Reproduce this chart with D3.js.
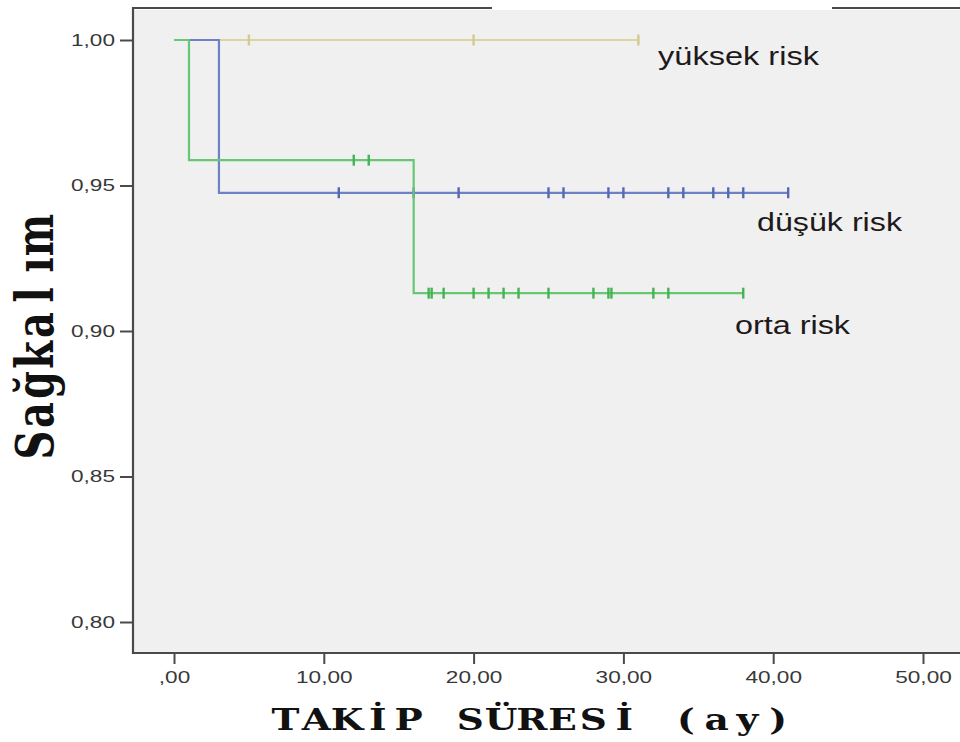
<!DOCTYPE html>
<html>
<head>
<meta charset="utf-8">
<script src="https://cdn.jsdelivr.net/npm/d3@7"></script>
<style>
  html, body { margin: 0; padding: 0; background: #ffffff; }
  svg { display: block; }
</style>
</head>
<body>
<svg id="chart" width="960" height="742"></svg>
<script>
// Kaplan–Meier survival curves by risk group
const groups = ["yüksek risk", "düşük risk", "orta risk"];

// step points: [time (ay), survival]
const yuksekSteps = [[0, 1.0], [31, 1.0]];
const dusukSteps  = [[0, 1.0], [3, 0.9475], [41, 0.9475]];
const ortaSteps   = [[0, 1.0], [1, 0.9587], [16, 0.913], [38, 0.913]];

// censored observation times
const yuksekCensored = [5, 20, 31];
const dusukCensored  = [11, 16, 19, 25, 26, 29, 30, 33, 34, 36, 37, 38, 41];
const ortaCensored   = [12, 13, 17, 17.2, 18, 20, 21, 22, 23, 25, 28, 29, 29.2, 32, 33, 38];

const xTicks = [0, 10, 20, 30, 40, 50];
const xTickLabels = [",00", "10,00", "20,00", "30,00", "40,00", "50,00"];
const yTicks = [0.80, 0.85, 0.90, 0.95, 1.00];
const yTickLabels = ["0,80", "0,85", "0,90", "0,95", "1,00"];

const xTitle = "TAKİP SÜRESİ (ay)";
const yTitle = "Sağkalım";

const series = [
  { name: groups[0], steps: yuksekSteps, censored: yuksekCensored, line: "#dcd5a0", mark: "#d2ca90", label: [658, 65, 161] },
  { name: groups[1], steps: dusukSteps,  censored: dusukCensored,  line: "#6f81c6", mark: "#5468b4", label: [757, 231, 145] },
  { name: groups[2], steps: ortaSteps,   censored: ortaCensored,   line: "#66c874", mark: "#45b254", label: [735, 334, 115] }
];

const SX = 1.33; // horizontal text stretch
const svg = d3.select("#chart");

const plot = { left: 133, right: 962, top: 8, bottom: 653 };
const x = d3.scaleLinear().domain([0, 50]).range([174, 923]);
const y = d3.scaleLinear().domain([0.80, 1.00]).range([622, 40]);

// plot background
svg.append("rect")
  .attr("x", plot.left).attr("y", plot.top + 2)
  .attr("width", plot.right - plot.left).attr("height", plot.bottom - plot.top - 2)
  .attr("fill", "#f0f0f0");

// frame
const frame = svg.append("g").attr("stroke", "#4a4a4a").attr("stroke-width", 2.2).attr("fill", "none");
frame.append("line").attr("x1", plot.left).attr("x2", plot.left).attr("y1", plot.top - 1).attr("y2", plot.bottom + 1);
frame.append("line").attr("x1", plot.left).attr("x2", plot.right).attr("y1", plot.bottom).attr("y2", plot.bottom);
frame.append("line").attr("x1", plot.left).attr("x2", 492).attr("y1", plot.top).attr("y2", plot.top);
frame.append("line").attr("x1", 832).attr("x2", plot.right).attr("y1", plot.top).attr("y2", plot.top);

// axes
const xAxis = d3.axisBottom(x).tickValues(xTicks)
  .tickFormat((d, i) => xTickLabels[i]).tickSize(11).tickPadding(7).tickSizeOuter(0);
const gx = svg.append("g").attr("transform", `translate(0,${plot.bottom})`).call(xAxis);
gx.select(".domain").remove();
gx.selectAll(".tick line").attr("stroke", "#4a4a4a").attr("stroke-width", 2);
gx.selectAll(".tick text")
  .attr("font-family", "'Liberation Sans', Arial, sans-serif")
  .attr("font-size", 17).attr("fill", "#383838")
  .attr("dy", "0.71em")
  .attr("transform", `scale(${SX},1)`);

const yAxis = d3.axisLeft(y).tickValues(yTicks)
  .tickFormat((d, i) => yTickLabels[i]).tickSize(13).tickPadding(4).tickSizeOuter(0);
const gy = svg.append("g").attr("transform", `translate(${plot.left},0)`).call(yAxis);
gy.select(".domain").remove();
gy.selectAll(".tick line").attr("stroke", "#4a4a4a").attr("stroke-width", 2);
gy.selectAll(".tick text")
  .attr("font-family", "'Liberation Sans', Arial, sans-serif")
  .attr("font-size", 17).attr("fill", "#383838")
  .attr("x", -18 / SX)
  .attr("transform", `scale(${SX},1)`);

// survival step curves
const step = d3.line().x(d => x(d[0])).y(d => y(d[1])).curve(d3.curveStepAfter);

function survivalAt(steps, t) {
  let s = steps[0][1];
  for (const p of steps) if (p[0] <= t) s = p[1];
  return s;
}

series.forEach(s => {
  svg.append("path")
    .attr("d", step(s.steps))
    .attr("fill", "none")
    .attr("stroke", s.line)
    .attr("stroke-width", 2.2);

  svg.append("g").selectAll("line").data(s.censored).join("line")
    .attr("x1", d => x(d)).attr("x2", d => x(d))
    .attr("y1", d => y(survivalAt(s.steps, d)) - 5.5)
    .attr("y2", d => y(survivalAt(s.steps, d)) + 5.5)
    .attr("stroke", s.mark)
    .attr("stroke-width", 2.4);
});

// group labels
series.forEach(s => {
  svg.append("text")
    .attr("x", s.label[0]).attr("y", s.label[1])
    .attr("font-family", "'Liberation Sans', Arial, sans-serif")
    .attr("font-size", 26)
    .attr("fill", "#1e1a1a")
    .attr("textLength", s.label[2])
    .attr("lengthAdjust", "spacingAndGlyphs")
    .text(s.name);
});

// axis titles: slab-serif glyphs set on a fixed (typewriter) pitch
function pitchedTitle(parent, text, cell, size, glyphStretch) {
  const t = parent.append("text")
    .attr("font-family", "'DejaVu Serif', 'Liberation Serif', serif")
    .attr("font-weight", "bold")
    .attr("font-size", size)
    .attr("fill", "#111")
    .attr("text-anchor", "middle");
  Array.from(text).forEach((ch, i) => {
    t.append("tspan")
      .attr("x", ((i + 0.5) * cell) / glyphStretch)
      .attr("y", 0)
      .text(ch);
  });
  t.attr("transform", `scale(${glyphStretch},1)`);
  return t;
}

const xTitleG = svg.append("g").attr("transform", "translate(270,730)");
pitchedTitle(xTitleG, xTitle, 30.8, 30, 1.25);

const yTitleG = svg.append("g").attr("transform", `translate(53,460) scale(${SX},1) rotate(-90)`);
pitchedTitle(yTitleG, yTitle, 30, 40, 1.0);
</script>
</body>
</html>
